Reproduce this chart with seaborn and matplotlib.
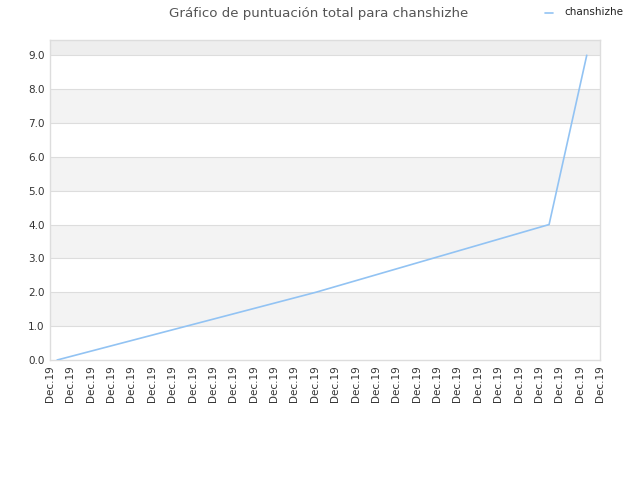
import numpy as np
import pandas as pd
import matplotlib
matplotlib.use("Agg")
import matplotlib.pyplot as plt
import seaborn as sns

# data
tick_labels = ["Dec.19"] * 28
x_pos = [0.35, 13.05, 24.5, 26.35]
score = [0, 2, 4, 9]
player = "chanshizhe"

df = pd.DataFrame({"x": x_pos, "score": score, "player": player})

sns.set_style("white")
plt.rcParams['font.family'] = ['DejaVu Sans']

fig = plt.figure(figsize=(6.4, 4.8), dpi=100)
ax = fig.add_axes([50 / 640, 120 / 480, 550 / 640, 320 / 480])

ymax = 9.45
# alternating bands
for i in range(10):
    lo, hi = i, min(i + 1, ymax)
    if i == 9:
        ax.axhspan(lo, hi, color="#eeeeee", zorder=0, lw=0)
    elif i % 2 == 1:
        ax.axhspan(lo, hi, color="#f3f3f3", zorder=0, lw=0)
for v in range(1, 10):
    ax.axhline(v, color="#dddddd", lw=0.8, zorder=1)

sns.lineplot(data=df, x="x", y="score", hue="player", palette=["#92c3f3"],
             lw=1.2, ax=ax, legend=False, zorder=3)

ax.set_xlim(0, 27)
ax.set_ylim(0, ymax)
ax.set_xticks(range(len(tick_labels)))
ax.set_xticklabels(tick_labels, rotation=90, fontsize=7.5, color="#333333")
ax.set_yticks(range(10))
ax.set_yticklabels([f"{v:.1f}" for v in range(10)], fontsize=7.5, color="#333333")
ax.tick_params(length=0, pad=4)
ax.set_xlabel("")
ax.set_ylabel("")
for s in ax.spines.values():
    s.set_color("#dddddd")
    s.set_linewidth(1)

fig.text(319 / 640, 1 - 13 / 480, "Gráfico de puntuación total para chanshizhe",
         ha="center", va="center", fontsize=9.6, color="#555555")
fig.lines.append(plt.Line2D([545 / 640, 553 / 640], [1 - 13 / 480, 1 - 13 / 480],
                            transform=fig.transFigure, color="#92c3f3", lw=1.2))
fig.text(564 / 640, 1 - 12 / 480, player, ha="left", va="center",
         fontsize=7.5, color="#222222", family="Liberation Sans Narrow")

fig.savefig("out.png", dpi=100)
